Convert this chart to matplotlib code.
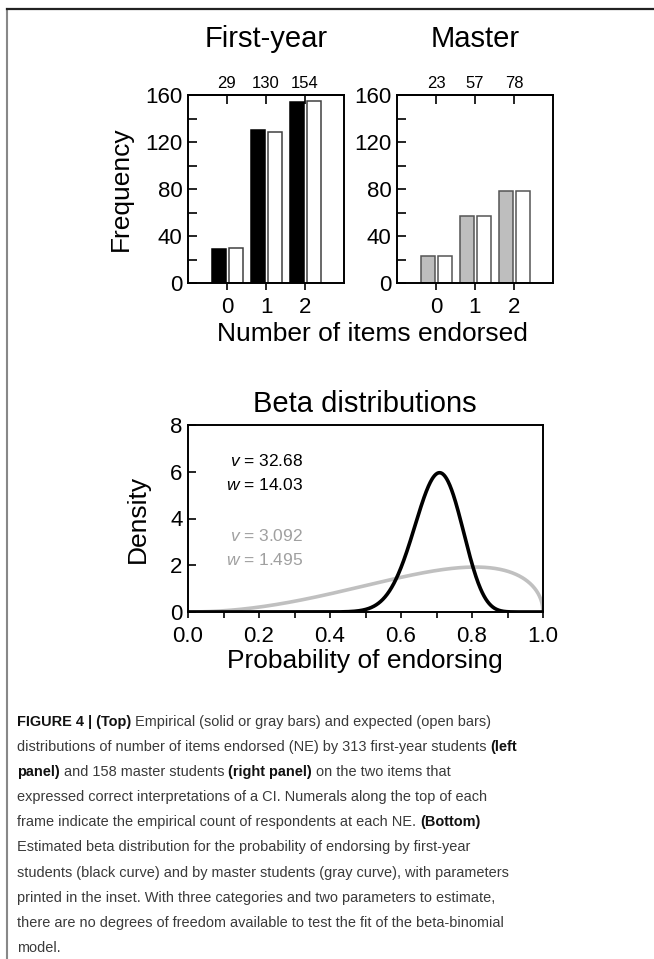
import math
import matplotlib
matplotlib.use('Agg')
import matplotlib.pyplot as plt
import numpy as np
from matplotlib.lines import Line2D
from matplotlib.ticker import MultipleLocator
from matplotlib import font_manager

plt.rcParams['font.family'] = ['Liberation Sans', 'DejaVu Sans']
plt.rcParams['mathtext.fontset'] = 'custom'
plt.rcParams['mathtext.rm'] = 'Liberation Sans'
plt.rcParams['mathtext.it'] = 'Liberation Sans:italic'

# Data
ne_values = [0, 1, 2]
first_year_empirical = [29, 130, 154]
first_year_expected = [29.6, 128.8, 154.6]
master_empirical = [23, 57, 78]
master_expected = [23.0, 57.0, 78.0]

first_year_v, first_year_w = 32.68, 14.03
master_v, master_w = 3.092, 1.495

W, H = 654, 959
fig = plt.figure(figsize=(W / 100, H / 100), dpi=100, facecolor='white')


def px_box(x0, y0, x1, y1):
    return [x0 / W, 1 - y1 / H, (x1 - x0) / W, (y1 - y0) / H]


def beta_pdf(x, a, b):
    lnorm = math.lgamma(a + b) - math.lgamma(a) - math.lgamma(b)
    with np.errstate(divide='ignore'):
        out = np.exp(lnorm + (a - 1) * np.log(x) + (b - 1) * np.log1p(-x))
    return np.nan_to_num(out)


spine_w = 1.4
tick_font = 16


def bar_panel(ax, emp, exp, face, edge, open_edge):
    x = np.array(ne_values)
    ax.bar(x - 0.21, emp, width=0.35, color=face, edgecolor=edge, linewidth=1.1, zorder=2)
    ax.bar(x + 0.23, exp, width=0.35, color='white', edgecolor=open_edge, linewidth=1.1, zorder=2)
    ax.set_xlim(-1, 3)
    ax.set_ylim(0, 160)
    ax.set_xticks(ne_values)
    ax.set_yticks([0, 40, 80, 120, 160])
    ax.yaxis.set_minor_locator(MultipleLocator(20))
    ax.tick_params(axis='y', which='both', direction='in', length=6.5, width=1.2,
                   labelsize=tick_font, pad=4)
    ax.tick_params(axis='x', direction='out', length=5, width=1.2,
                   labelsize=tick_font, pad=5)
    for s in ax.spines.values():
        s.set_linewidth(spine_w)
    sec = ax.secondary_xaxis('top')
    sec.set_xticks(ne_values, labels=[str(v) for v in emp])
    sec.tick_params(direction='in', length=6.5, width=1.2, labelsize=12, pad=3)
    sec.spines['top'].set_linewidth(spine_w)


ax1 = fig.add_axes(px_box(188, 95, 344, 283))
bar_panel(ax1, first_year_empirical, first_year_expected, 'black', 'black', '#404040')
ax1.set_ylabel('Frequency', fontsize=19)
ax1.yaxis.set_label_coords(-0.353, 0.5)

ax2 = fig.add_axes(px_box(397, 95, 553, 283))
bar_panel(ax2, master_empirical, master_expected, '#bebebe', '#555555', '#555555')

fig.text(266 / W, 1 - 47 / H, 'First-year', ha='center', va='baseline', fontsize=21)
fig.text(475 / W, 1 - 47 / H, 'Master', ha='center', va='baseline', fontsize=21)
fig.text(372 / W, 1 - 341 / H, 'Number of items endorsed', ha='center', va='baseline', fontsize=19)

# Beta distributions
ax3 = fig.add_axes(px_box(188, 425, 543, 612))
p = np.linspace(0, 1, 801)
ax3.plot(p, beta_pdf(p, master_v, master_w), color='#c0c0c0', lw=2.6, zorder=2,
         solid_capstyle='butt')
ax3.plot(p, beta_pdf(p, first_year_v, first_year_w), color='black', lw=2.6, zorder=3,
         solid_capstyle='butt')
ax3.set_xlim(0, 1)
ax3.set_ylim(0, 8)
ax3.set_xticks([0, 0.2, 0.4, 0.6, 0.8, 1.0])
ax3.set_xticklabels(['0.0', '0.2', '0.4', '0.6', '0.8', '1.0'])
ax3.xaxis.set_minor_locator(MultipleLocator(0.1))
ax3.set_yticks([0, 2, 4, 6, 8])
ax3.tick_params(axis='y', direction='in', length=5.5, width=1.2, labelsize=tick_font, pad=4)
ax3.tick_params(axis='x', which='both', direction='out', length=4.5, width=1.2,
                labelsize=tick_font, pad=5.5)
for s in ax3.spines.values():
    s.set_linewidth(spine_w)
ax3.set_ylabel('Density', fontsize=19)
ax3.yaxis.set_label_coords(-0.107, 0.5)
fig.text(365 / W, 1 - 412 / H, 'Beta distributions', ha='center', va='baseline', fontsize=21)
fig.text(365 / W, 1 - 668 / H, 'Probability of endorsing', ha='center', va='baseline', fontsize=19)

ax3.text(0.324, 6.25, r'$v$ = %.2f' % first_year_v, ha='right', va='baseline', fontsize=12.5, color='black')
ax3.text(0.324, 5.22, r'$w$ = %.2f' % first_year_w, ha='right', va='baseline', fontsize=12.5, color='black')
ax3.text(0.324, 3.05, r'$v$ = %.3f' % master_v, ha='right', va='baseline', fontsize=12.5, color='#a0a0a0')
ax3.text(0.324, 2.02, r'$w$ = %.3f' % master_w, ha='right', va='baseline', fontsize=12.5, color='#a0a0a0')

# Frame lines
fig.add_artist(Line2D([7 / W, 7 / W], [0, 1 - 9 / H], transform=fig.transFigure,
                      color='#888888', lw=1.5))
fig.add_artist(Line2D([7 / W, 1], [1 - 9 / H, 1 - 9 / H], transform=fig.transFigure,
                      color='#222222', lw=1.6))

# Caption
cap_family = 'Liberation Sans'
try:
    font_manager.findfont(font_manager.FontProperties(family='Liberation Sans Narrow'),
                          fallback_to_default=False)
    cap_family = 'Liberation Sans Narrow'
except Exception:
    pass

caption = [
    [('FIGURE 4 | (Top)', True), (' Empirical (solid or gray bars) and expected (open bars)', False)],
    [('distributions of number of items endorsed (NE) by 313 first-year students ', False), ('(left', True)],
    [('panel)', True), (' and 158 master students ', False), ('(right panel)', True), (' on the two items that', False)],
    [('expressed correct interpretations of a CI. Numerals along the top of each', False)],
    [('frame indicate the empirical count of respondents at each NE. ', False), ('(Bottom)', True)],
    [('Estimated beta distribution for the probability of endorsing by first-year', False)],
    [('students (black curve) and by master students (gray curve), with parameters', False)],
    [('printed in the inset. With three categories and two parameters to estimate,', False)],
    [('there are no degrees of freedom available to test the fit of the beta-binomial', False)],
    [('model.', False)],
]

renderer = fig.canvas.get_renderer()
# fit font size so that line 2 spans ~496 px
probe = fig.text(0, 0, ''.join(s for s, _ in caption[1]), fontsize=10, family=cap_family)
pw = probe.get_window_extent(renderer).width
probe.remove()
cap_size = 10 * 496 / pw

y0 = 726
for i, line in enumerate(caption):
    x = 17
    y = y0 + 25.1 * i
    for seg, bold in line:
        t = fig.text(x / W, 1 - y / H, seg, fontsize=cap_size, family=cap_family,
                     fontweight='bold' if bold else 'normal',
                     color='#111111' if bold else '#3a3a3a', ha='left', va='baseline')
        x += t.get_window_extent(renderer).width

fig.savefig('out.png', dpi=100, facecolor='white')
